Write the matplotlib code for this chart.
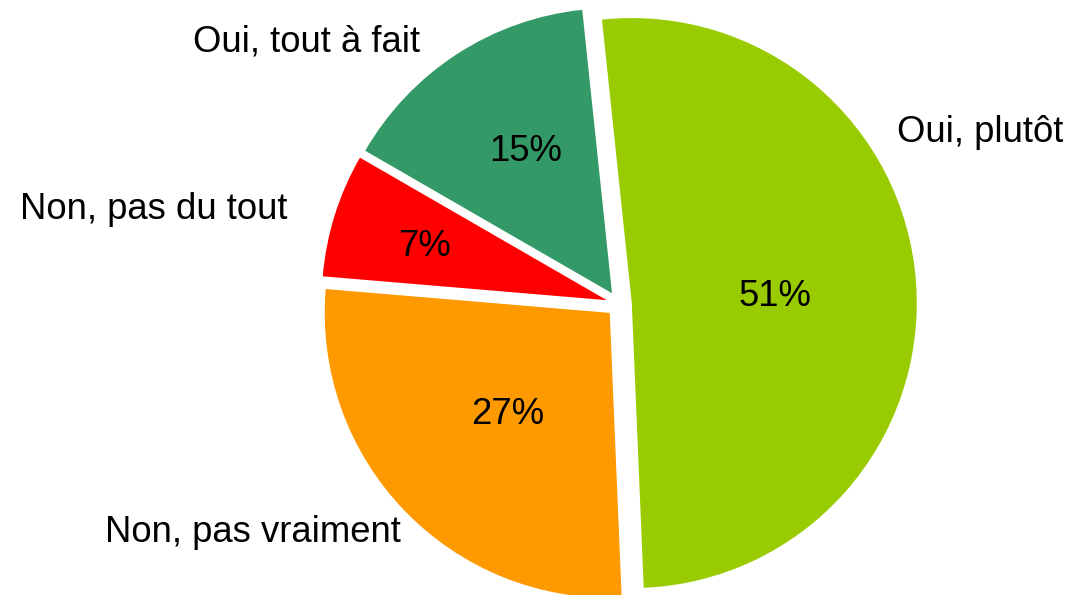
import matplotlib
matplotlib.use("Agg")
import matplotlib.pyplot as plt

# ---- data ----
categories = ["Oui, plutôt", "Non, pas vraiment", "Non, pas du tout", "Oui, tout à fait"]
values = [51, 27, 7, 15]
colors = ["#99CC00", "#FF9900", "#FF0000", "#339966"]

# ---- layout (pixel positions of text baselines in the 1073x595 image) ----
W, H = 1073, 595
CX, CY, R = 619, 304, 285          # pie centre / radius in pixels
label_px = [(980, 142), (253, 542), (153.5, 219), (306.5, 51)]
pct_px = [(774.5, 306), (507.5, 424), (424.5, 256), (526, 161)]

plt.rcParams['font.family'] = ['Liberation Sans', 'DejaVu Sans']
FS = 26.3


def px2data(px, py):
    return (px - CX) / R, (CY - py) / R


fig = plt.figure(figsize=(W / 100, H / 100), dpi=100)
ax = fig.add_axes([0, 0, 1, 1])

wedges, texts, autotexts = ax.pie(
    values, colors=colors, startangle=96, counterclock=False,
    explode=[0.045] * len(values), radius=1.0,
    autopct=lambda p: f"{p:.0f}%",
    textprops=dict(fontsize=FS, color="black"),
    wedgeprops=dict(linewidth=0),
)

for t, (px, py) in zip(autotexts, pct_px):
    t.set_position(px2data(px, py))
    t.set_ha("center")
    t.set_va("baseline")

for name, (px, py) in zip(categories, label_px):
    x, y = px2data(px, py)
    ax.text(x, y, name, fontsize=FS, ha="center", va="baseline", color="black")

ax.set_xlim(-CX / R, (W - CX) / R)
ax.set_ylim(-(H - CY) / R, CY / R)
ax.set_aspect("auto")
ax.axis("off")

fig.savefig("out.png", dpi=100, facecolor="white")
